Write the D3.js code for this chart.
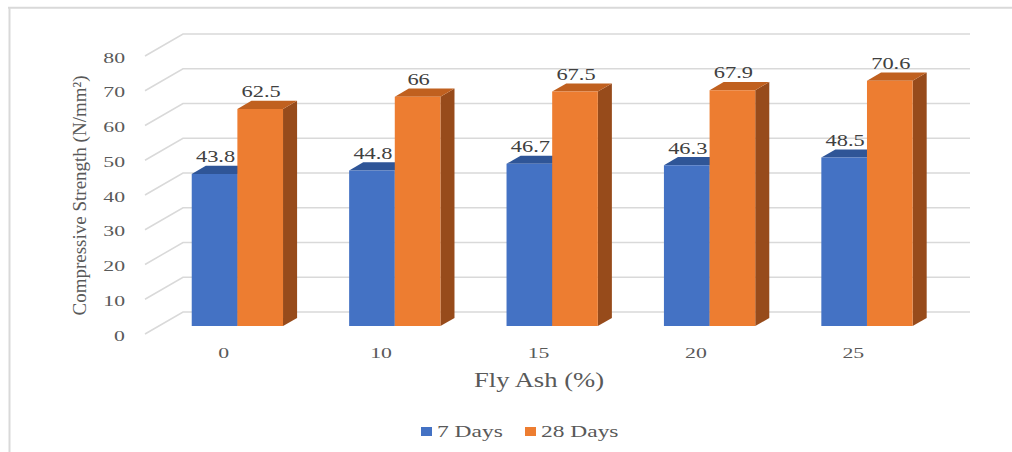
<!DOCTYPE html>
<html>
<head>
<meta charset="utf-8">
<script src="https://cdn.jsdelivr.net/npm/d3@7"></script>
<style>
  html, body { margin: 0; padding: 0; background: #ffffff; }
  svg { display: block; }
</style>
</head>
<body>
<script>
// Compressive strength of concrete at different fly ash replacement levels
const categories = ["0", "10", "15", "20", "25"];
const seriesNames = ["7 Days", "28 Days"];
const days7 = [43.8, 44.8, 46.7, 46.3, 48.5];
const days28 = [62.5, 66, 67.5, 67.9, 70.6];
const yTicks = [0, 10, 20, 30, 40, 50, 60, 70, 80];
const seriesColors = ["#4472C4", "#ED7D31"];
const topColors = ["#2F5597", "#C0601F"];
const sideColors = ["#2A4C88", "#974B1B"];

const FONT = "'Liberation Serif', Tinos, 'DejaVu Serif', serif";
const W = 1012, H = 452;
const svg = d3.select("body").append("svg").attr("width", W).attr("height", H)
  .attr("font-family", FONT);

// chart frame
svg.append("line").attr("x1", 8).attr("x2", W).attr("y1", 7.7).attr("y2", 7.7)
  .attr("stroke", "#d9d9d9").attr("stroke-width", 2);
svg.append("line").attr("x1", 9.5).attr("x2", 9.5).attr("y1", 7).attr("y2", H)
  .attr("stroke", "#d9d9d9").attr("stroke-width", 2);

// 3-D projection: front floor edge, plus a depth vector toward the back wall
const floorY = 334;
const depth = { dx: 38, dy: -22 };
const x = d3.scaleBand().domain(categories).range([145, 932]).paddingInner(0).paddingOuter(0);
const y = d3.scaleLinear().domain([0, 80]).range([0, -278]);
const P = (px, v, f) => [px + f * depth.dx, floorY + y(v) + f * depth.dy];
const barFront = 0.36, barBack = 0.73;
const barW = x.bandwidth() * 0.29;

// gridlines: diagonal on the side wall, horizontal on the back wall
const grid = svg.append("g").attr("stroke", "#d9d9d9").attr("stroke-width", 1.5).attr("fill", "none");
yTicks.forEach(t => {
  const a = P(x.range()[0], t, 0), b = P(x.range()[0], t, 1), c = P(x.range()[1], t, 1);
  grid.append("path").attr("d", d3.line()([a, b, c]));
});

// helper for horizontally widened labels
function label(g, px, py, str, size, sx, anchor, fill) {
  return g.append("text")
    .attr("transform", `translate(${px},${py}) scale(${sx},1)`)
    .attr("font-family", FONT)
    .attr("text-anchor", anchor)
    .attr("font-size", size)
    .attr("fill", fill)
    .text(str);
}

// value axis tick labels
const axisG = svg.append("g");
yTicks.forEach(t => {
  const p = P(x.range()[0], t, 0);
  label(axisG, p[0] - 20, p[1] + 6.5, String(t), 15, 1.45, "end", "#595959");
});

// category labels
categories.forEach(c => {
  const cx = x(c) + x.bandwidth() / 2;
  label(axisG, cx, floorY + 24, c, 15, 1.45, "middle", "#595959");
});

// axis titles
svg.append("text")
  .attr("transform", "translate(86,195.5) rotate(-90)")
  .attr("font-family", FONT)
  .attr("text-anchor", "middle").attr("font-size", 19).attr("fill", "#595959")
  .text("Compressive Strength (N/mm²)");
label(svg, 539, 387, "Fly Ash (%)", 20, 1.33, "middle", "#595959");

// bars
const series = [days7, days28];
const barsG = svg.append("g");
const labelsG = svg.append("g");
categories.forEach((c, i) => {
  const cx = x(c) + x.bandwidth() / 2;
  series.forEach((vals, s) => {
    const v = vals[i];
    const x0 = cx + (s - 1) * barW, x1 = x0 + barW;
    const poly = pts => barsG.append("polygon").attr("points", pts.map(p => p.join(",")).join(" "));
    // right side
    poly([P(x1, 0, barFront), P(x1, v, barFront), P(x1, v, barBack), P(x1, 0, barBack)])
      .attr("fill", sideColors[s]);
    // top
    poly([P(x0, v, barFront), P(x1, v, barFront), P(x1, v, barBack), P(x0, v, barBack)])
      .attr("fill", topColors[s]);
    // front
    poly([P(x0, 0, barFront), P(x1, 0, barFront), P(x1, v, barFront), P(x0, v, barFront)])
      .attr("fill", seriesColors[s]);
    // value label
    const top = P((x0 + x1) / 2, v, barBack);
    const front = P((x0 + x1) / 2, v, barFront);
    label(labelsG, front[0] + 1, top[1] - 3.5, String(v), 16, 1.4, "middle", "#404040");
  });
});

// legend
const legend = svg.append("g");
const legendItems = [
  { name: seriesNames[0], color: seriesColors[0], x: 421 },
  { name: seriesNames[1], color: seriesColors[1], x: 525 }
];
legendItems.forEach(d => {
  legend.append("rect").attr("x", d.x).attr("y", 427).attr("width", 11).attr("height", 9).attr("fill", d.color);
  label(legend, d.x + 16, 437, d.name, 17, 1.38, "start", "#595959");
});
</script>
</body>
</html>
